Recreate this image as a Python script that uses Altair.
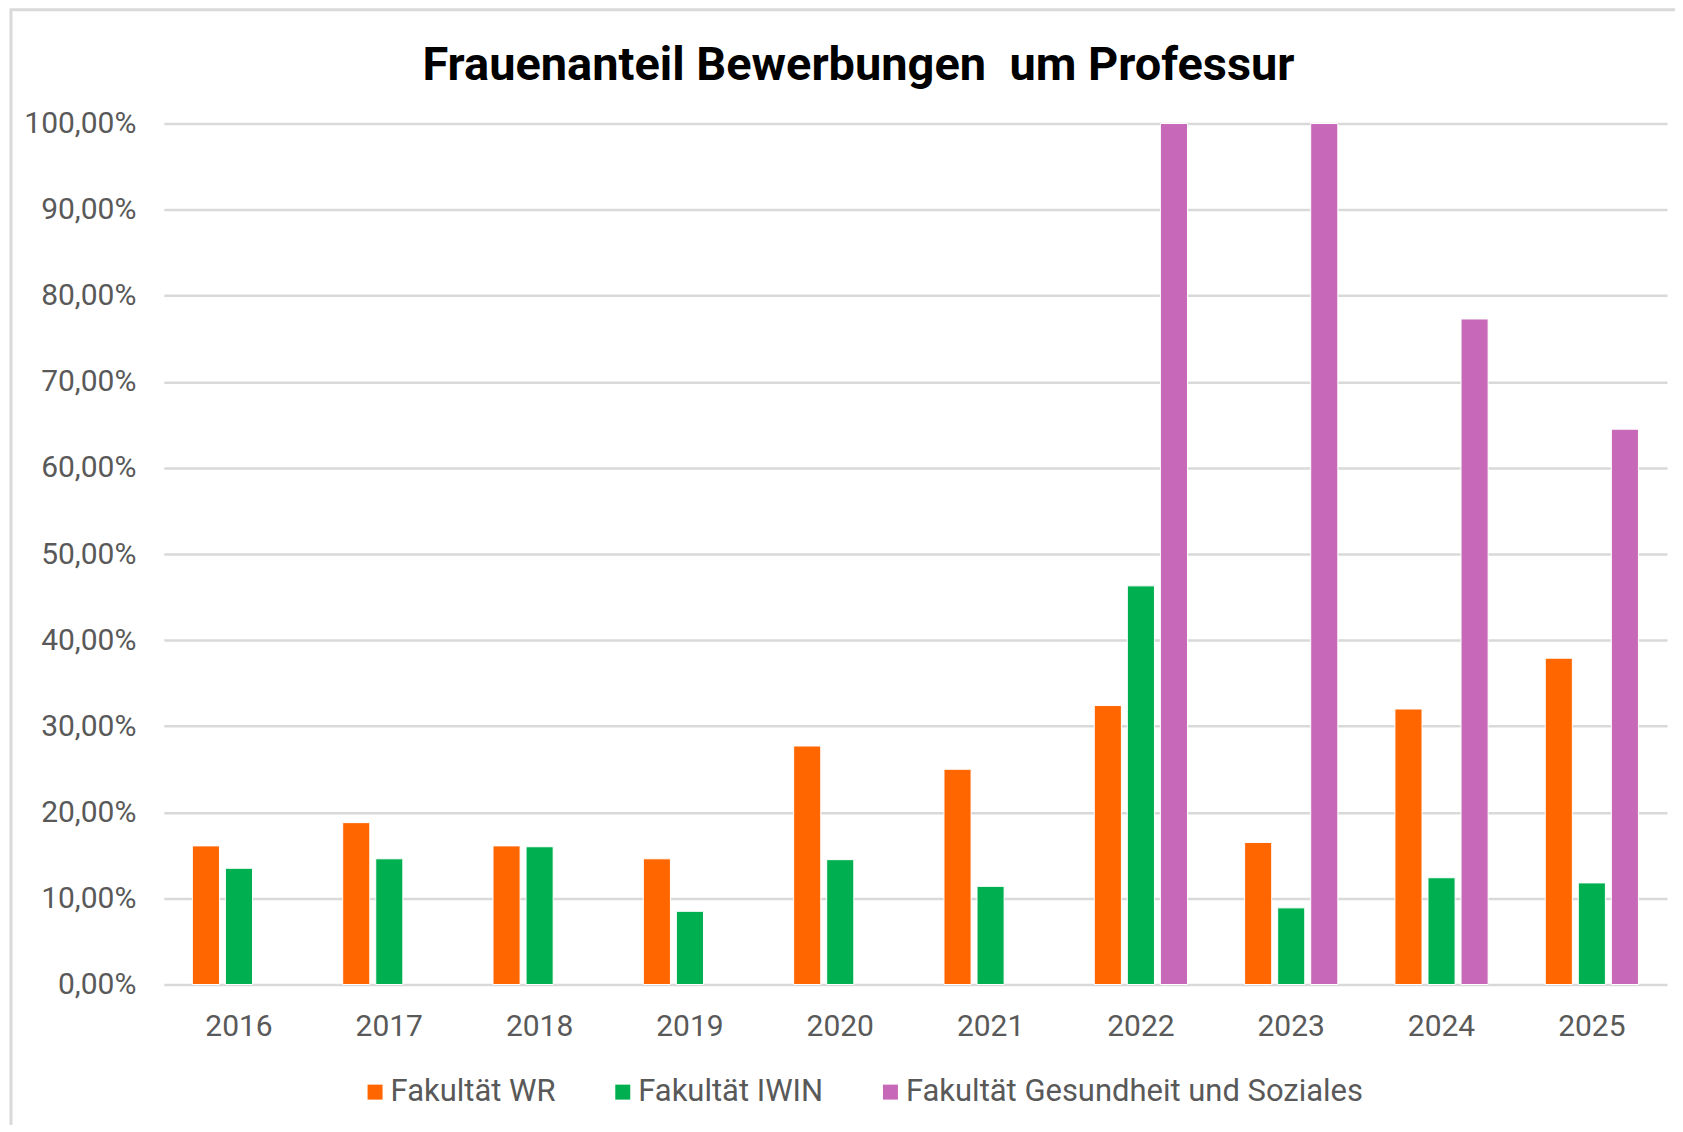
import altair as alt
import pandas as pd

years = ["2016", "2017", "2018", "2019", "2020", "2021", "2022", "2023", "2024", "2025"]
series = ["Fakultät WR", "Fakultät IWIN", "Fakultät Gesundheit und Soziales"]
colors = ["#FF6600", "#00B050", "#C768B9"]
wr = [16.1, 18.8, 16.1, 14.6, 27.7, 25.0, 32.4, 16.5, 32.0, 37.9]
iwin = [13.5, 14.6, 16.0, 8.5, 14.5, 11.4, 46.3, 8.9, 12.4, 11.8]
gs = [None, None, None, None, None, None, 100.0, 100.0, 77.3, 64.5]
y_ticks = [0, 10, 20, 30, 40, 50, 60, 70, 80, 90, 100]

rows = []
for name, vals in zip(series, [wr, iwin, gs]):
    for yr, v in zip(years, vals):
        if v is not None:
            rows.append({"Jahr": yr, "Fakultät": name, "Anteil": v})
df = pd.DataFrame(rows)

W, H = 1505, 862
PL, PT = 156, 115

bars = alt.Chart(df).mark_bar(stroke="white", strokeWidth=1).encode(
    x=alt.X("Jahr:N", sort=years,
            scale=alt.Scale(paddingInner=0.38, paddingOuter=0.19),
            axis=alt.Axis(title=None, labelAngle=0, labelFontSize=30, labelColor="#595959",
                          labelFont="Roboto", ticks=False, domain=False, grid=False,
                          labelPadding=27)),
    xOffset=alt.XOffset("Fakultät:N", sort=series,
                        scale=alt.Scale(paddingInner=0.18, paddingOuter=0)),
    y=alt.Y("Anteil:Q", scale=alt.Scale(domain=[0, 100], nice=False),
            axis=alt.Axis(title=None, values=y_ticks, labelFontSize=30, labelColor="#595959",
                          labelFont="Roboto", ticks=False, domain=False,
                          gridColor="#D9D9D9", gridWidth=2.5, labelPadding=28,
                          labelExpr="replace(format(datum.value, '.2f'), '.', ',') + '%'")),
    color=alt.Color("Fakultät:N", sort=series,
                    scale=alt.Scale(domain=series, range=colors),
                    legend=alt.Legend(title=None, orient="none", direction="horizontal",
                                      legendX=196, legendY=954, symbolType="square",
                                      symbolSize=225, symbolStrokeWidth=0,
                                      labelFontSize=31, labelFont="Roboto",
                                      labelColor="#595959", labelOffset=0,
                                      labelLimit=800, columnPadding=51)),
)

frame = alt.Chart(pd.DataFrame({"a": [0]})).mark_rect(
    fill=None, stroke="#D9D9D9", strokeWidth=3
).encode(
    x=alt.value(-153), x2=alt.value(1700), y=alt.value(-114), y2=alt.value(1200)
)

chart = alt.layer(frame, bars).properties(
    width=W, height=H,
    autosize=alt.AutoSizeParams(type="none"),
    padding={"left": PL, "top": PT, "right": 8, "bottom": 140},
    title=alt.Title("Frauenanteil Bewerbungen \u00a0um Professur", fontSize=47,
                    font="Roboto", fontWeight="bold", color="#000000",
                    anchor="middle", dx=-57, offset=-82),
).configure_view(stroke=None)

chart.save("out.html", embed_options={"renderer": "svg", "actions": False})
